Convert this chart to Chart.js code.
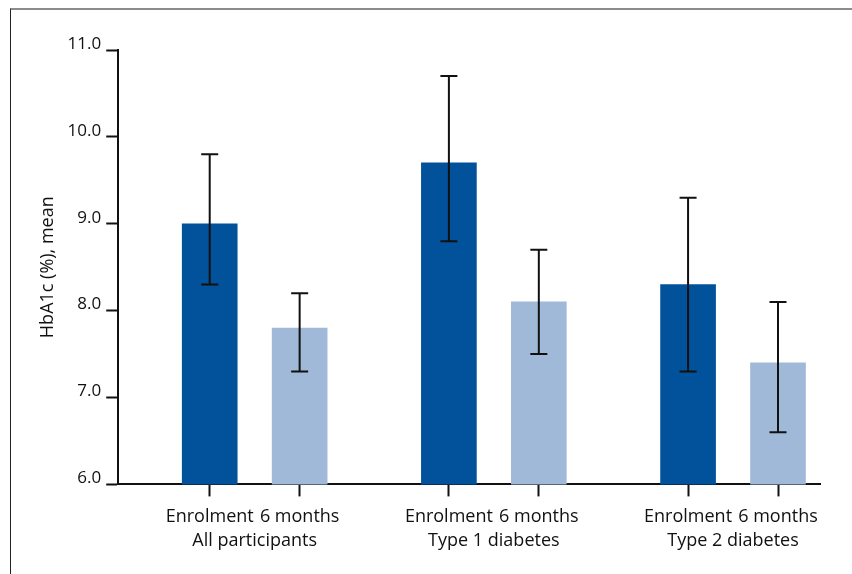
<!DOCTYPE html>
<html>
<head>
<meta charset="utf-8">
<script src="https://cdn.jsdelivr.net/npm/chart.js@4.4.1/dist/chart.umd.min.js"></script>
<style>
  html, body { margin: 0; padding: 0; background: #fff; }
  #wrap { position: relative; width: 852px; height: 574px; }
  #frame {
    position: absolute; left: 10px; top: 8px; right: 0; bottom: 0;
    border-top: 2px solid #8c8c8c; border-left: 1px solid #222;
    pointer-events: none;
  }
  canvas { position: absolute; left: 0; top: 0; }
</style>
</head>
<body>
<div id="wrap">
  <canvas id="chart" width="852" height="574"></canvas>
  <div id="frame"></div>
</div>
<script>
const groups = ['All participants', 'Type 1 diabetes', 'Type 2 diabetes'];
const timepoints = ['Enrolment', '6 months'];

const enrolmentMean = [9.0, 9.7, 8.3];
const enrolmentLow = [8.3, 8.8, 7.3];
const enrolmentHigh = [9.8, 10.7, 9.3];

const sixMonthMean = [7.8, 8.1, 7.4];
const sixMonthLow = [7.3, 7.5, 6.6];
const sixMonthHigh = [8.2, 8.7, 8.1];

const yTicks = [6, 7, 8, 9, 10, 11];

const DARK = '#02519b';
const LIGHT = '#a0b9d8';
const FONT = "'Open Sans', 'Noto Sans', sans-serif";
// half the distance between the two bars of a group, in group units
const SHIFT = 0.188;

const positions = (side) => groups.map((g, i) => i + side * SHIFT);

const errorBars = {
  id: 'errorBars',
  afterDatasetsDraw(chart) {
    const { ctx, scales } = chart;
    ctx.save();
    ctx.strokeStyle = '#111';
    ctx.lineWidth = 2;
    chart.data.datasets.forEach((ds, di) => {
      const meta = chart.getDatasetMeta(di);
      meta.data.forEach((bar, i) => {
        const x = bar.x;
        const yLo = scales.y.getPixelForValue(ds.low[i]);
        const yHi = scales.y.getPixelForValue(ds.high[i]);
        ctx.beginPath();
        ctx.moveTo(x, yLo);
        ctx.lineTo(x, yHi);
        ctx.moveTo(x - 8.5, yLo);
        ctx.lineTo(x + 8.5, yLo);
        ctx.moveTo(x - 8.5, yHi);
        ctx.lineTo(x + 8.5, yHi);
        ctx.stroke();
      });
    });
    ctx.restore();
  }
};

// group names, centred under each pair of bars
const groupLabels = {
  id: 'groupLabels',
  afterDraw(chart) {
    const { ctx, scales } = chart;
    const x = scales.x;
    ctx.save();
    ctx.font = `18px ${FONT}`;
    ctx.fillStyle = '#111';
    ctx.textAlign = 'center';
    ctx.textBaseline = 'middle';
    groups.forEach((g, i) => {
      ctx.fillText(g, x.getPixelForValue(i), x.top + 56);
    });
    ctx.restore();
  }
};

Chart.defaults.font.family = FONT;
Chart.defaults.font.size = 17;
Chart.defaults.color = '#111';

const xMin = -0.5705;
const xMax = 2.3636;

new Chart(document.getElementById('chart').getContext('2d'), {
  type: 'bar',
  data: {
    datasets: [
      {
        label: timepoints[0],
        data: enrolmentMean.map((v, i) => ({ x: positions(-1)[i], y: v })),
        low: enrolmentLow,
        high: enrolmentHigh,
        backgroundColor: DARK
      },
      {
        label: timepoints[1],
        data: sixMonthMean.map((v, i) => ({ x: positions(1)[i], y: v })),
        low: sixMonthLow,
        high: sixMonthHigh,
        backgroundColor: LIGHT
      }
    ]
  },
  options: {
    responsive: false,
    animation: false,
    events: [],
    grouped: false,
    barThickness: 55,
    layout: { padding: { top: 50, right: 32, left: 37, bottom: 36 } },
    plugins: { legend: { display: false }, tooltip: { enabled: false } },
    scales: {
      x: {
        type: 'linear',
        offset: false,
        min: xMin,
        max: xMax,
        afterBuildTicks: (scale) => {
          scale.ticks = groups.flatMap((g, i) => [
            { value: i - SHIFT },
            { value: i + SHIFT }
          ]);
        },
        ticks: {
          autoSkip: false,
          maxRotation: 0,
          padding: 10,
          font: { size: 18 },
          callback: (value, index) => timepoints[index % 2]
        },
        grid: {
          offset: false,
          drawOnChartArea: false,
          drawTicks: true,
          tickLength: 12,
          tickWidth: 2,
          tickColor: '#111'
        },
        border: { display: true, color: '#111', width: 2 }
      },
      y: {
        min: 6,
        max: 11,
        afterBuildTicks: (scale) => {
          scale.ticks = yTicks.map((v) => ({ value: v }));
        },
        ticks: {
          padding: 5,
          labelOffset: -6,
          callback: (value) => value.toFixed(1)
        },
        grid: {
          drawOnChartArea: false,
          drawTicks: true,
          tickLength: 12,
          tickWidth: 2,
          tickColor: '#111'
        },
        border: { display: true, color: '#111', width: 2 },
        title: {
          display: true,
          text: 'HbA1c (%), mean',
          font: { size: 18 },
          padding: { top: 0, bottom: 4 }
        }
      }
    }
  },
  plugins: [errorBars, groupLabels]
});
</script>
</body>
</html>
